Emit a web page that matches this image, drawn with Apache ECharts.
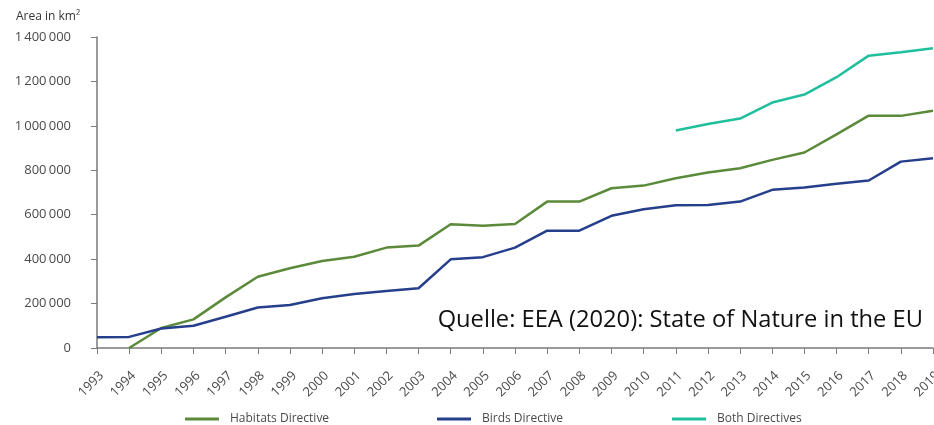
<!DOCTYPE html>
<html>
<head>
<meta charset="utf-8">
<script src="https://cdn.jsdelivr.net/npm/echarts@6/dist/echarts.min.js"></script>
<style>
  html, body { margin: 0; padding: 0; background: #fff; }
  #chart { width: 934px; height: 425px; }
</style>
</head>
<body>
<div id="chart"></div>
<script>
// data (km²)
const years = ['1993', '1994', '1995', '1996', '1997', '1998', '1999', '2000', '2001', '2002', '2003', '2004', '2005', '2006',
  '2007', '2008', '2009', '2010', '2011', '2012', '2013', '2014', '2015', '2016', '2017', '2018', '2019']
const habitats = [null, 0, 90000, 129000, 228000, 321000, 359000, 392000, 411000, 452000, 461000, 557000, 550000, 558000,
  659000, 659000, 719000, 731000, 764000, 790000, 809000, 847000, 880000, 962000, 1046000, 1045000, 1068000]
const birds = [48000, 50000, 88000, 100000, 141000, 182000, 194000, 224000, 243000, 257000, 269000, 399000, 409000, 452000,
  528000, 528000, 595000, 625000, 643000, 644000, 659000, 712000, 722000, 739000, 754000, 839000, 854000]
const both = [null, null, null, null, null, null, null, null, null, null, null, null, null, null,
  null, null, null, null, 979000, 1008000, 1033000, 1105000, 1141000, 1219000, 1316000, 1331000, 1349000]

const FONT = 'Open Sans'
const LABEL = '#4a4a4a'
const AXIS = '#7a7a7a'

const chart = echarts.init(document.getElementById('chart'))

// one legend per entry so each one sits where it does in the source
const legendItem = (name, left) => ({
  data: [name],
  left: left,
  top: 413,
  padding: 0,
  icon: 'rect',
  itemWidth: 34,
  itemHeight: 3,
  textStyle: { fontFamily: FONT, fontSize: 12, color: LABEL, padding: [0, 0, 0, 6] }
})

chart.setOption({
  animation: false,
  title: {
    text: 'Area in km²',
    left: 11,
    top: 6,
    textStyle: { fontFamily: FONT, fontSize: 12, fontWeight: 'normal', color: '#333' }
  },
  legend: [
    legendItem('Habitats Directive', 185),
    legendItem('Birds Directive', 437),
    legendItem('Both Directives', 672)
  ],
  grid: { left: 97, right: 1, top: 37, bottom: 77, outerBoundsMode: 'none' },
  xAxis: {
    type: 'category',
    data: years,
    boundaryGap: false,
    axisLine: { lineStyle: { color: AXIS, width: 1.5 } },
    axisTick: { alignWithLabel: true, length: 6, lineStyle: { color: AXIS } },
    axisLabel: {
      rotate: 45,
      interval: 0,
      margin: 21,
      verticalAlign: 'top',
      fontFamily: FONT,
      fontSize: 13,
      color: LABEL
    }
  },
  yAxis: {
    type: 'value',
    min: 0,
    max: 1400000,
    interval: 200000,
    axisLine: { show: true, lineStyle: { color: AXIS, width: 1.5 } },
    axisTick: { show: true, length: 6, lineStyle: { color: AXIS } },
    splitLine: { show: false },
    axisLabel: {
      margin: 26,
      fontFamily: FONT,
      fontSize: 13,
      color: LABEL,
      formatter: v => String(v).replace(/\B(?=(\d{3})+(?!\d))/g, '\u2009')
    }
  },
  series: [
    {
      name: 'Habitats Directive',
      type: 'line',
      data: habitats,
      showSymbol: false,
      lineStyle: { color: '#5b8a3a', width: 2.5 },
      itemStyle: { color: '#5b8a3a' }
    },
    {
      name: 'Birds Directive',
      type: 'line',
      data: birds,
      showSymbol: false,
      lineStyle: { color: '#263f8c', width: 2.5 },
      itemStyle: { color: '#263f8c' }
    },
    {
      name: 'Both Directives',
      type: 'line',
      data: both,
      showSymbol: false,
      lineStyle: { color: '#1fbf9e', width: 2.5 },
      itemStyle: { color: '#1fbf9e' }
    }
  ],
  graphic: [
    {
      type: 'text',
      right: 11,
      top: 308,
      style: { text: 'Quelle: EEA (2020): State of Nature in the EU', font: '23.7px "Open Sans"', fill: '#111' }
    }
  ]
})
</script>
</body>
</html>
